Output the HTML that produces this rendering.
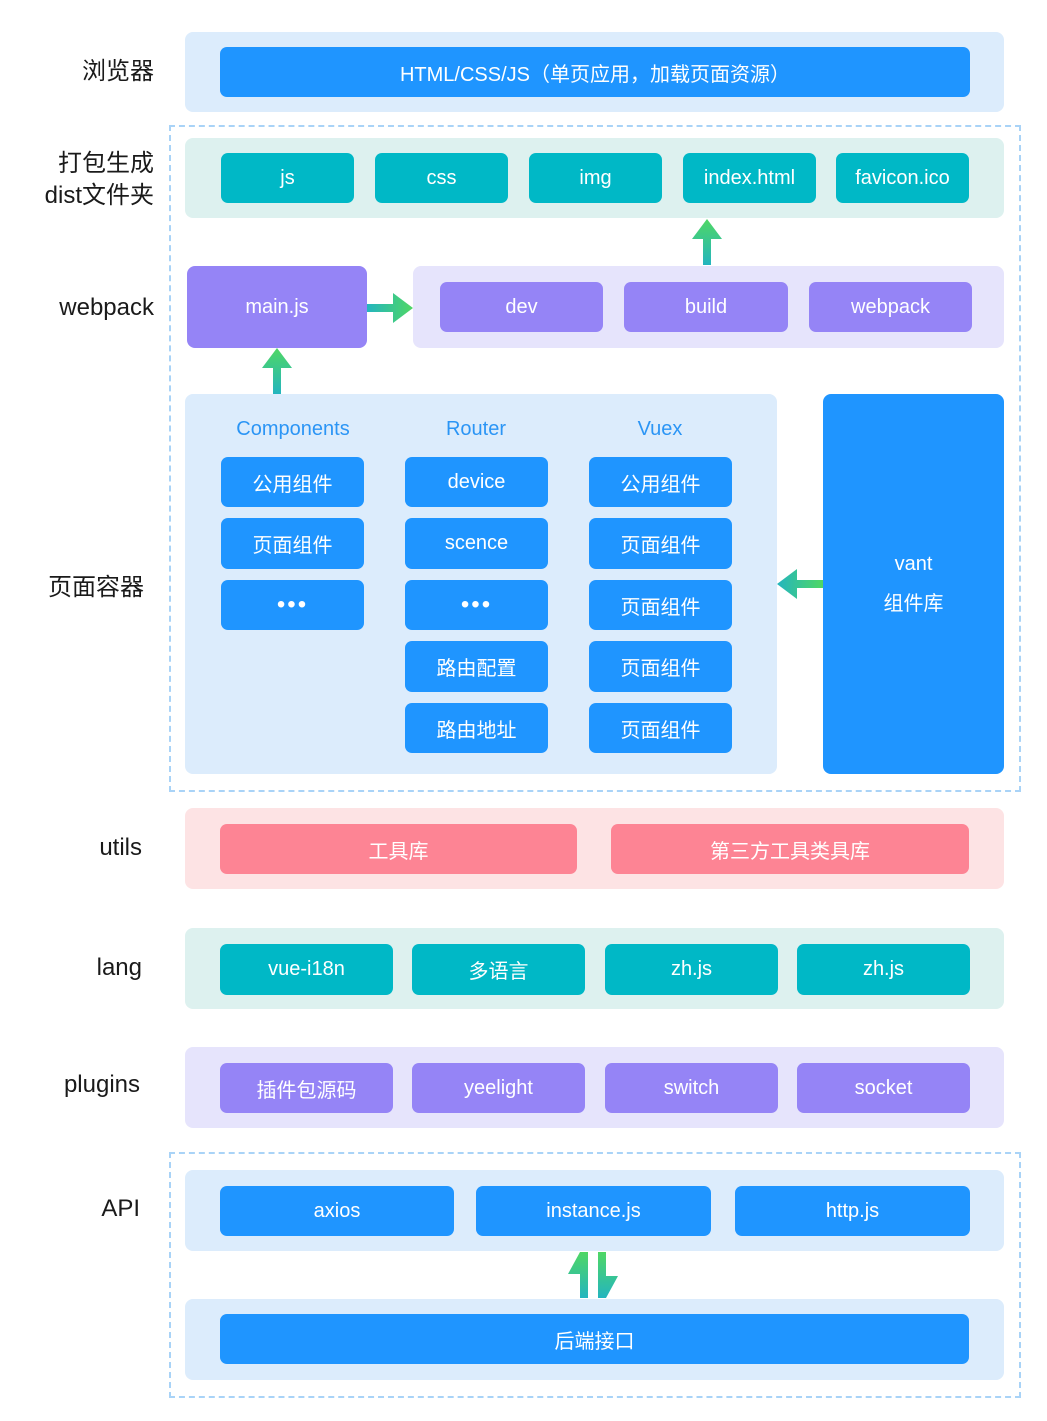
<!DOCTYPE html>
<html><head><meta charset="utf-8"><style>
body{margin:0;background:#fff;width:1047px;height:1421px;position:relative;overflow:hidden;font-family:"Liberation Sans","Noto Sans CJK SC",sans-serif}
.p{position:absolute;border-radius:8px}
.b{position:absolute;border-radius:7px;color:#fff;font-size:20px;display:flex;align-items:center;justify-content:center;text-align:center}
.lb{position:absolute;font-size:24px;color:#1a1a1a;text-align:right;line-height:32px}
.h{position:absolute;color:#2b95f5;font-size:20px;transform:translateX(-50%)}
.dash{position:absolute;border:2px dashed #a9d3f7}
.bl{background:#1f95ff}.tl{background:#00b8c6}.pu{background:#9584f6}.pk{background:#fd8494}
</style></head><body>
<svg width="0" height="0" style="position:absolute"><defs>
<linearGradient id="gu" x1="0" y1="1" x2="0" y2="0"><stop offset="0" stop-color="#24b5bf"/><stop offset="1" stop-color="#4fd764"/></linearGradient>
<linearGradient id="gr" x1="0" y1="0" x2="1" y2="0"><stop offset="0" stop-color="#24b5bf"/><stop offset="1" stop-color="#4fd764"/></linearGradient>
<linearGradient id="gl" x1="1" y1="0" x2="0" y2="0"><stop offset="0" stop-color="#4fd764"/><stop offset="1" stop-color="#24b5bf"/></linearGradient>
<linearGradient id="gd" x1="0" y1="0" x2="0" y2="1"><stop offset="0" stop-color="#4fd764"/><stop offset="1" stop-color="#24b5bf"/></linearGradient>
</defs></svg>

<div class="dash" style="left:169px;top:125px;width:848px;height:663px"></div>
<div class="dash" style="left:169px;top:1152px;width:848px;height:242px"></div>

<div class="lb" style="right:893px;top:56px">浏览器</div>
<div class="lb" style="right:893px;top:148px">打包生成<br>dist文件夹</div>
<div class="lb" style="right:893px;top:292px">webpack</div>
<div class="lb" style="right:903px;top:572px">页面容器</div>
<div class="lb" style="right:905px;top:832px">utils</div>
<div class="lb" style="right:905px;top:952px">lang</div>
<div class="lb" style="right:907px;top:1069px">plugins</div>
<div class="lb" style="right:907px;top:1193px">API</div>

<div class="p" style="left:185px;top:32px;width:819px;height:80px;background:#dcecfc"></div>
<div class="b bl" style="left:220px;top:47px;width:750px;height:50px">HTML/CSS/JS（单页应用，加载页面资源）</div>

<div class="p" style="left:185px;top:138px;width:819px;height:80px;background:#ddf1ef"></div>
<div class="b tl" style="left:221px;top:153px;width:133px;height:50px">js</div>
<div class="b tl" style="left:375px;top:153px;width:133px;height:50px">css</div>
<div class="b tl" style="left:529px;top:153px;width:133px;height:50px">img</div>
<div class="b tl" style="left:683px;top:153px;width:133px;height:50px">index.html</div>
<div class="b tl" style="left:836px;top:153px;width:133px;height:50px">favicon.ico</div>

<svg style="position:absolute;left:692px;top:219px" width="30" height="46"><polygon points="15,0 30,20 19,20 19,46 11,46 11,20 0,20" fill="url(#gu)"/></svg>

<div class="b pu" style="left:187px;top:266px;width:180px;height:82px;border-radius:8px">main.js</div>
<svg style="position:absolute;left:367px;top:293px" width="46" height="30"><polygon points="0,11 26,11 26,0 46,15 26,30 26,19 0,19" fill="url(#gr)"/></svg>
<div class="p" style="left:413px;top:266px;width:591px;height:82px;background:#e6e4fc"></div>
<div class="b pu" style="left:440px;top:282px;width:163px;height:50px">dev</div>
<div class="b pu" style="left:624px;top:282px;width:164px;height:50px">build</div>
<div class="b pu" style="left:809px;top:282px;width:163px;height:50px">webpack</div>

<svg style="position:absolute;left:262px;top:348px" width="30" height="46"><polygon points="15,0 30,20 19,20 19,46 11,46 11,20 0,20" fill="url(#gu)"/></svg>

<div class="p" style="left:185px;top:394px;width:592px;height:380px;background:#dcecfc"></div>
<div class="h" style="left:293px;top:418px">Components</div>
<div class="h" style="left:476px;top:418px">Router</div>
<div class="h" style="left:660px;top:418px">Vuex</div>

<div class="b bl" style="left:221px;top:457px;width:143px;height:50px">公用组件</div>
<div class="b bl" style="left:221px;top:518px;width:143px;height:51px">页面组件</div>
<div class="b bl" style="left:221px;top:580px;width:143px;height:50px;font-size:24px;letter-spacing:2px">•••</div>

<div class="b bl" style="left:405px;top:457px;width:143px;height:50px">device</div>
<div class="b bl" style="left:405px;top:518px;width:143px;height:51px">scence</div>
<div class="b bl" style="left:405px;top:580px;width:143px;height:50px;font-size:24px;letter-spacing:2px">•••</div>
<div class="b bl" style="left:405px;top:641px;width:143px;height:51px">路由配置</div>
<div class="b bl" style="left:405px;top:703px;width:143px;height:50px">路由地址</div>

<div class="b bl" style="left:589px;top:457px;width:143px;height:50px">公用组件</div>
<div class="b bl" style="left:589px;top:518px;width:143px;height:51px">页面组件</div>
<div class="b bl" style="left:589px;top:580px;width:143px;height:50px">页面组件</div>
<div class="b bl" style="left:589px;top:641px;width:143px;height:51px">页面组件</div>
<div class="b bl" style="left:589px;top:703px;width:143px;height:50px">页面组件</div>

<svg style="position:absolute;left:777px;top:569px" width="46" height="30"><polygon points="0,15 20,0 20,11 46,11 46,19 20,19 20,30" fill="url(#gl)"/></svg>
<div class="b bl" style="left:823px;top:394px;width:181px;height:380px;flex-direction:column;line-height:40px;border-radius:8px"><div>vant</div><div>组件库</div></div>

<div class="p" style="left:185px;top:808px;width:819px;height:81px;background:#fde3e4"></div>
<div class="b pk" style="left:220px;top:824px;width:357px;height:50px">工具库</div>
<div class="b pk" style="left:611px;top:824px;width:358px;height:50px">第三方工具类具库</div>

<div class="p" style="left:185px;top:928px;width:819px;height:81px;background:#ddf1ef"></div>
<div class="b tl" style="left:220px;top:944px;width:173px;height:51px">vue-i18n</div>
<div class="b tl" style="left:412px;top:944px;width:173px;height:51px">多语言</div>
<div class="b tl" style="left:605px;top:944px;width:173px;height:51px">zh.js</div>
<div class="b tl" style="left:797px;top:944px;width:173px;height:51px">zh.js</div>

<div class="p" style="left:185px;top:1047px;width:819px;height:81px;background:#e6e4fc"></div>
<div class="b pu" style="left:220px;top:1063px;width:173px;height:50px">插件包源码</div>
<div class="b pu" style="left:412px;top:1063px;width:173px;height:50px">yeelight</div>
<div class="b pu" style="left:605px;top:1063px;width:173px;height:50px">switch</div>
<div class="b pu" style="left:797px;top:1063px;width:173px;height:50px">socket</div>

<div class="p" style="left:185px;top:1170px;width:819px;height:81px;background:#dcecfc"></div>
<div class="b bl" style="left:220px;top:1186px;width:234px;height:50px">axios</div>
<div class="b bl" style="left:476px;top:1186px;width:235px;height:50px">instance.js</div>
<div class="b bl" style="left:735px;top:1186px;width:235px;height:50px">http.js</div>

<svg style="position:absolute;left:568px;top:1252px" width="52" height="46"><polygon points="0,22 12,0 20,0 20,46 12,46 12,22" fill="url(#gu)"/><polygon points="30,0 38,0 38,24 50,24 38,46 30,46" fill="url(#gd)"/></svg>

<div class="p" style="left:185px;top:1299px;width:819px;height:81px;background:#dcecfc"></div>
<div class="b bl" style="left:220px;top:1314px;width:749px;height:50px">后端接口</div>
</body></html>
